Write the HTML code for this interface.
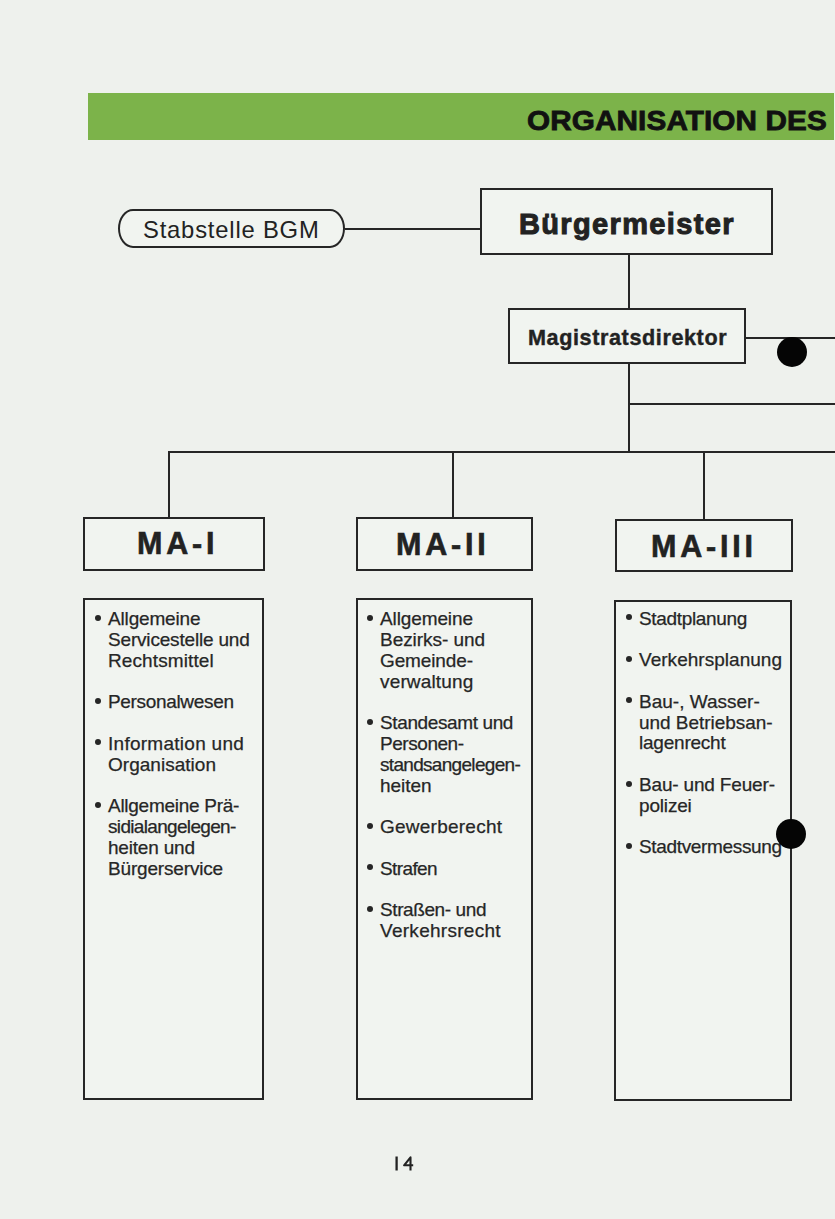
<!DOCTYPE html>
<html><head><meta charset="utf-8">
<style>
html,body{margin:0;padding:0}
body{width:835px;height:1219px;position:relative;overflow:hidden;background:#eef1ed;font-family:"Liberation Sans",sans-serif;color:#232323}
.a{position:absolute}
.ln{position:absolute;background:#262626}
.bx{position:absolute;box-sizing:border-box;border:2px solid #262626;background:#f1f4f0}
.green{position:absolute;left:88px;top:92.6px;width:746px;height:47.8px;background:#7cb34a}
.title{position:absolute;font-weight:bold;font-size:27px;letter-spacing:0.1px;transform:scaleX(1.1);transform-origin:0 0;white-space:nowrap;color:#111;-webkit-text-stroke:0.8px #111}
.hd{position:absolute;font-weight:bold;white-space:nowrap;color:#222}
.col{position:absolute;font-size:19px;line-height:20.8px;white-space:nowrap;color:#262626;-webkit-text-stroke:0.25px #262626}
.col p{margin:0 0 20.8px 0}
.col .l{display:block;position:relative;height:20.8px}
.col .b::before{content:"";position:absolute;left:-13.2px;top:5.6px;width:6px;height:6px;border-radius:50%;background:#262626}
.dot{position:absolute;width:30px;height:30px;border-radius:50%;background:#050505}
</style></head><body>
<div class="green"></div>
<div class="title" style="left:527px;top:106px">ORGANISATION DES</div>

<div class="bx" style="left:118px;top:209px;width:227px;height:39px;border-radius:15px/19.5px"></div>
<div class="hd" style="left:143px;top:216px;font-weight:normal;font-size:23.8px;letter-spacing:0.8px">Stabstelle BGM</div>
<div class="ln" style="left:345px;top:228px;width:136px;height:2px"></div>

<div class="bx" style="left:480px;top:188px;width:293px;height:67px"></div>
<div class="hd" style="left:519px;top:208px;font-size:29px;letter-spacing:1.35px;-webkit-text-stroke:1px #222">Bürgermeister</div>
<div class="ln" style="left:628px;top:255px;width:2px;height:54px"></div>

<div class="bx" style="left:508px;top:308px;width:238px;height:56px"></div>
<div class="hd" style="left:528px;top:325px;font-size:21.6px;letter-spacing:0.6px;-webkit-text-stroke:0.4px #222">Magistratsdirektor</div>
<div class="ln" style="left:746px;top:337px;width:89px;height:2px"></div>
<div class="dot" style="left:777px;top:337px"></div>
<div class="ln" style="left:628px;top:364px;width:2px;height:89px"></div>
<div class="ln" style="left:629px;top:403px;width:206px;height:2px"></div>
<div class="ln" style="left:168px;top:451px;width:667px;height:2px"></div>
<div class="ln" style="left:168px;top:452px;width:2px;height:66px"></div>
<div class="ln" style="left:452px;top:452px;width:2px;height:66px"></div>
<div class="ln" style="left:703px;top:452px;width:2px;height:68px"></div>

<div class="bx" style="left:83px;top:517px;width:182px;height:54px"></div>
<div class="hd" style="left:137px;top:526px;font-size:30.5px;letter-spacing:3.8px;-webkit-text-stroke:0.6px #222">MA-I</div>
<div class="bx" style="left:356px;top:517px;width:177px;height:54px"></div>
<div class="hd" style="left:396px;top:527px;font-size:30.5px;letter-spacing:3.8px;-webkit-text-stroke:0.6px #222">MA-II</div>
<div class="bx" style="left:615px;top:519px;width:178px;height:53px"></div>
<div class="hd" style="left:651px;top:529px;font-size:30.5px;letter-spacing:3.8px;-webkit-text-stroke:0.6px #222">MA-III</div>

<div class="bx" style="left:83px;top:598px;width:181px;height:502px"></div>
<div class="bx" style="left:356px;top:598px;width:177px;height:502px"></div>
<div class="bx" style="left:614px;top:600px;width:178px;height:501px"></div>

<div class="col" style="left:108px;top:609px">
<p>
<span class="l b" style="letter-spacing:-0.16px">Allgemeine</span>
<span class="l" style="letter-spacing:-0.18px">Servicestelle und</span>
<span class="l" style="letter-spacing:0.11px">Rechtsmittel</span>
</p>
<p>
<span class="l b" style="letter-spacing:-0.33px">Personalwesen</span>
</p>
<p>
<span class="l b" style="letter-spacing:0.27px">Information und</span>
<span class="l" style="letter-spacing:0.02px">Organisation</span>
</p>
<p>
<span class="l b" style="letter-spacing:-0.27px">Allgemeine Prä-</span>
<span class="l" style="letter-spacing:-0.67px">sidialangelegen-</span>
<span class="l" style="letter-spacing:-0.20px">heiten und</span>
<span class="l" style="letter-spacing:-0.17px">Bürgerservice</span>
</p>
</div>

<div class="col" style="left:380px;top:609.2px">
<p>
<span class="l b" style="letter-spacing:-0.11px">Allgemeine</span>
<span class="l" style="letter-spacing:-0.04px">Bezirks- und</span>
<span class="l" style="letter-spacing:-0.12px">Gemeinde-</span>
<span class="l" style="letter-spacing:0.16px">verwaltung</span>
</p>
<p>
<span class="l b" style="letter-spacing:-0.38px">Standesamt und</span>
<span class="l" style="letter-spacing:-0.45px">Personen-</span>
<span class="l" style="letter-spacing:-0.69px">standsangelegen-</span>
<span class="l" style="letter-spacing:-0.04px">heiten</span>
</p>
<p>
<span class="l b" style="letter-spacing:0.24px">Gewerberecht</span>
</p>
<p>
<span class="l b" style="letter-spacing:-0.60px">Strafen</span>
</p>
<p>
<span class="l b" style="letter-spacing:-0.40px">Straßen- und</span>
<span class="l" style="letter-spacing:0.28px">Verkehrsrecht</span>
</p>
</div>

<div class="col" style="left:639px;top:608.7px">
<p>
<span class="l b" style="letter-spacing:-0.33px">Stadtplanung</span>
</p>
<p>
<span class="l b" style="letter-spacing:0.03px">Verkehrsplanung</span>
</p>
<p>
<span class="l b">Bau-, Wasser-</span>
<span class="l" style="letter-spacing:-0.04px">und Betriebsan-</span>
<span class="l" style="letter-spacing:-0.22px">lagenrecht</span>
</p>
<p>
<span class="l b" style="letter-spacing:-0.17px">Bau- und Feuer-</span>
<span class="l" style="letter-spacing:-0.17px">polizei</span>
</p>
<p>
<span class="l b" style="letter-spacing:-0.34px">Stadtvermessung</span>
</p>
</div>

<div class="dot" style="left:776px;top:819px"></div>

<svg class="a" style="left:390px;top:1150px" width="30" height="25" viewBox="0 0 30 25"><path d="M6.6 6.5V20.5" stroke="#232323" stroke-width="2.3" fill="none"/><path d="M20.5 20.5V7.4L14.1 15.3H23.2" stroke="#232323" stroke-width="2.1" fill="none" stroke-linejoin="round"/></svg>
</body></html>
